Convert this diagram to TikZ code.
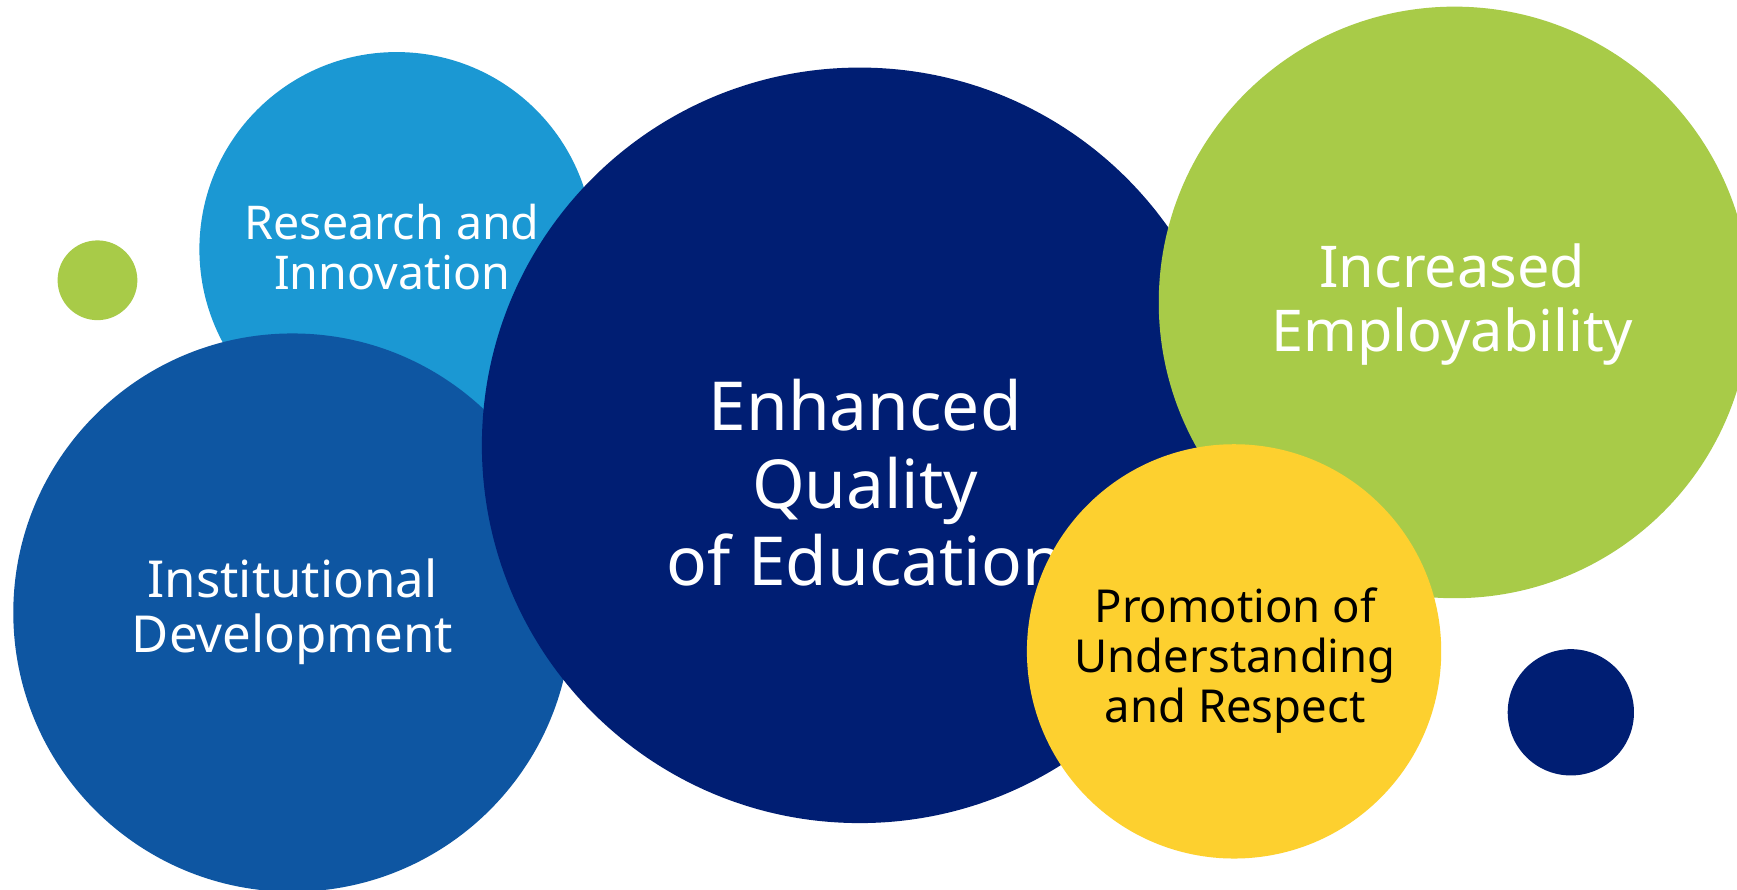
\documentclass[tikz,border=0pt]{standalone}
\usepackage{fontspec}
\setmainfont{Noto Sans}
\definecolor{cResearch}{HTML}{1B98D3}
\definecolor{cInst}{HTML}{0E56A2}
\definecolor{cNavy}{HTML}{001E73}
\definecolor{cGreen}{HTML}{A8CB48}
\definecolor{cYellow}{HTML}{FDD02F}
\begin{document}
\begin{tikzpicture}[x=0.5pt,y=-0.5pt,
  bubble/.style={fill=#1,draw=none},
  lbl/.style={align=center,text=white,inner sep=0pt}]
\useasboundingbox (0,0) rectangle (1568,803);
\clip (0,0) rectangle (1568,803);
\fill[white] (0,0) rectangle (1568,803);
% circles
\fill[bubble=cGreen] (88,253) circle[radius=36];
\fill[bubble=cResearch] (358,225) circle[radius=178];
\node[lbl,font=\fontsize{21}{23}\selectfont] (research) at (354,223) {Research and\\Innovation};
\fill[bubble=cInst] (264,553) circle[radius=252];
\node[lbl,font=\fontsize{23}{25}\selectfont] (inst) at (264,552) {Institutional\\Development};
\fill[bubble=cNavy] (776,402) circle[radius=341];
\node[lbl,font=\fontsize{30.5}{35}\selectfont] (enh) at (781,436) {Enhanced\\Quality\\of Education};
\fill[bubble=cGreen] (1313,273) circle[radius=267];
\node[lbl,font=\fontsize{26}{29}\selectfont] (emp) at (1311,275) {Increased\\Employability};
\fill[bubble=cYellow] (1114,588) circle[radius=187];
\node[lbl,text=black,font=\fontsize{20.5}{22.5}\selectfont] (prom) at (1115,596) {Promotion of\\Understanding\\and Respect};
\fill[bubble=cNavy] (1418,643) circle[radius=57];
\end{tikzpicture}
\end{document}
